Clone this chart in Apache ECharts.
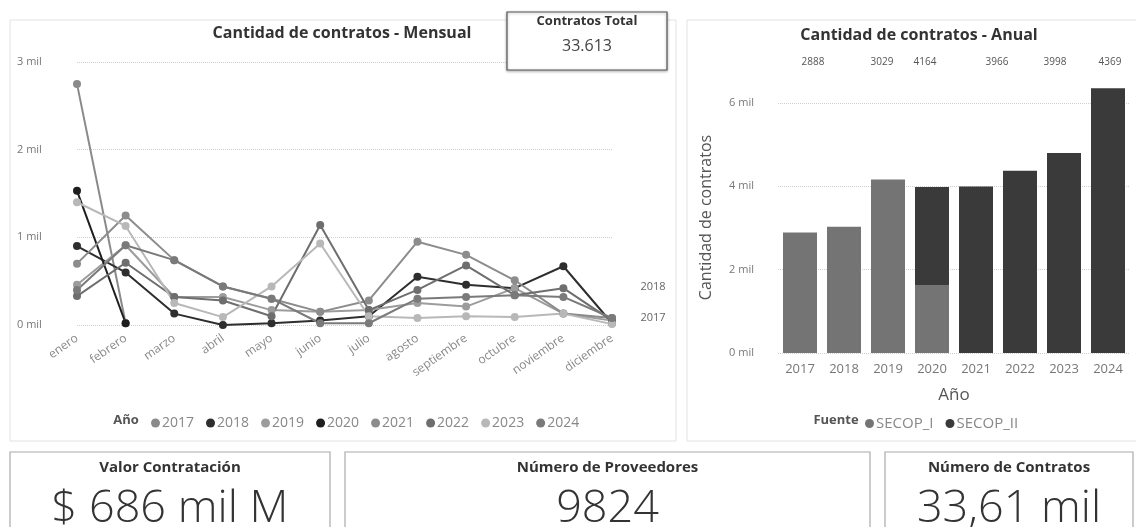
<!DOCTYPE html>
<html><head><meta charset="utf-8">
<script src="https://cdn.jsdelivr.net/npm/echarts@6/dist/echarts.min.js"></script>
<style>html,body{margin:0;padding:0;background:#fff;}#c{width:1136px;height:527px;}</style>
</head><body><div id="c"></div>
<script>
const months = ['enero','febrero','marzo','abril','mayo','junio','julio','agosto','septiembre','octubre','noviembre','diciembre'];
const yearNames = ['2017','2018','2019','2020','2021','2022','2023','2024'];
const v2017 = [2750, 20, null, null, null, null, null, null, null, null, null, null];
const v2018 = [900, 600, 130, 0, 20, 50, 100, 550, 460, 420, 670, 20];
const v2019 = [460, 910, 320, 320, 170, 150, 170, 250, 210, 420, 130, 50];
const v2020 = [1530, 20, null, null, null, null, null, null, null, null, null, null];
const v2021 = [700, 1250, 740, 440, 300, 150, 280, 950, 800, 510, 130, 80];
const v2022 = [330, 710, 320, 280, 100, 1140, 170, 400, 680, 340, 420, 50];
const v2023 = [1400, 1130, 250, 90, 440, 930, 100, 80, 100, 90, 130, 10];
const v2024 = [400, 910, 740, 440, 300, 20, 20, 300, 320, 340, 320, 80];
const monthlySeries = [v2017, v2018, v2019, v2020, v2021, v2022, v2023, v2024];

const years = ['2017','2018','2019','2020','2021','2022','2023','2024'];
const secopI  = [2888, 3029, 4164, 1630, 0, 0, 0, 0];
const secopII = [0, 0, 0, 2350, 3996, 4369, 4800, 6350];
const topLabels = ['2888','3029','4164','3966','3998','4369'];
const totalContratos = '33.613';
const cards = [
  {title: 'Valor Contratación', value: '$ 686 mil M'},
  {title: 'Número de Proveedores', value: '9824'},
  {title: 'Número de Contratos', value: '33,61 mil'}
];

const yearColors = ['#8a8a8a','#2e2e2e','#9c9c9c','#1e1e1e','#8c8c8c','#6e6e6e','#b8b8b8','#7a7a7a'];
const FONT = '"Open Sans", "Noto Sans", sans-serif';

const chart = echarts.init(document.getElementById('c'));
const milFmt = v => (v/1000) + ' mil';

const series = monthlySeries.map((d, i) => ({
  name: yearNames[i], type: 'line', xAxisIndex: 0, yAxisIndex: 0, data: d,
  symbol: 'circle', symbolSize: 8, showSymbol: true,
  lineStyle: {width: 2, color: yearColors[i]}, itemStyle: {color: yearColors[i]},
  z: 3
}));
series.push({name: 'SECOP_I', type: 'bar', stack: 's', xAxisIndex: 1, yAxisIndex: 1, data: secopI, barWidth: 34, itemStyle: {color: '#747474'}});
series.push({name: 'SECOP_II', type: 'bar', stack: 's', xAxisIndex: 1, yAxisIndex: 1, data: secopII, barWidth: 34, itemStyle: {color: '#3a3a3a'}});

const topLabelX = [813, 882, 925, 997, 1055, 1110];
const graphics = [
  {type: 'rect', shape: {x: 10, y: 20, width: 666, height: 421}, style: {fill: 'none', stroke: '#e2e2e2', lineWidth: 1}, z: -1},
  {type: 'rect', shape: {x: 687, y: 20, width: 460, height: 421}, style: {fill: 'none', stroke: '#e2e2e2', lineWidth: 1}, z: -1},
  {type: 'rect', shape: {x: 507, y: 12, width: 160, height: 58}, style: {fill: '#fff', stroke: '#555', lineWidth: 1.2, shadowBlur: 3, shadowColor: 'rgba(0,0,0,0.3)', shadowOffsetY: 1}, z: 10},
  {type: 'text', x: 587, y: 21, style: {text: 'Contratos Total', font: 'bold 13px ' + FONT, fill: '#333', align: 'center', verticalAlign: 'middle'}, z: 11},
  {type: 'text', x: 587, y: 46, style: {text: totalContratos, font: '16px ' + FONT, fill: '#444', align: 'center', verticalAlign: 'middle'}, z: 11},
  {type: 'text', x: 342, y: 33, style: {text: 'Cantidad de contratos - Mensual', font: 'bold 16px ' + FONT, fill: '#333', align: 'center', verticalAlign: 'middle'}},
  {type: 'text', x: 919, y: 35, style: {text: 'Cantidad de contratos - Anual', font: 'bold 16px ' + FONT, fill: '#333', align: 'center', verticalAlign: 'middle'}},
  {type: 'text', x: 653, y: 287, style: {text: '2018', font: '11px ' + FONT, fill: '#666', align: 'center', verticalAlign: 'middle'}},
  {type: 'text', x: 653, y: 318, style: {text: '2017', font: '11px ' + FONT, fill: '#666', align: 'center', verticalAlign: 'middle'}},
  {type: 'text', x: 126, y: 420, style: {text: 'Año', font: 'bold 13px ' + FONT, fill: '#555', align: 'center', verticalAlign: 'middle'}},
  {type: 'text', x: 836, y: 420, style: {text: 'Fuente', font: 'bold 13px ' + FONT, fill: '#555', align: 'center', verticalAlign: 'middle'}}
];
topLabels.forEach((t, i) => graphics.push({type: 'text', x: topLabelX[i], y: 62, style: {text: t, font: '10px ' + FONT, fill: '#555', align: 'center', verticalAlign: 'middle'}}));
const cardBoxes = [[10, 320], [345, 525], [885, 248]];
cards.forEach((c, i) => {
  const [x, w] = cardBoxes[i];
  graphics.push({type: 'rect', shape: {x: x, y: 452, width: w, height: 90}, style: {fill: 'none', stroke: '#aaa', lineWidth: 1.2}});
  graphics.push({type: 'text', x: x + w/2, y: 468, style: {text: c.title, font: 'bold 15px ' + FONT, fill: '#333', align: 'center', verticalAlign: 'middle'}});
  graphics.push({type: 'text', x: x + w/2, y: 509, style: {text: c.value, font: '300 45px ' + FONT, fill: '#333', align: 'center', verticalAlign: 'middle'}});
});

chart.setOption({
  animation: false,
  textStyle: {fontFamily: FONT},
  color: yearColors,
  legend: [
    {data: yearNames, left: 146, top: 411, itemWidth: 9, itemHeight: 9, itemGap: 12, icon: 'circle',
     textStyle: {color: '#888', fontSize: 14, padding: [0, 0, 0, -3]}},
    {data: ['SECOP_I', 'SECOP_II'], left: 860, top: 411, itemWidth: 9, itemHeight: 9, itemGap: 12, icon: 'circle',
     textStyle: {color: '#888', fontSize: 15, padding: [0, 0, 0, -3]}}
  ],
  grid: [
    {left: 77, right: 524, top: 62, bottom: 202},
    {left: 778, right: 6, top: 82, bottom: 174}
  ],
  xAxis: [
    {type: 'category', gridIndex: 0, data: months, boundaryGap: false,
     axisLine: {show: false}, axisTick: {show: false},
     axisLabel: {rotate: 35, color: '#888', fontSize: 12, margin: 12}},
    {type: 'category', gridIndex: 1, data: years,
     axisLine: {show: false}, axisTick: {show: false},
     axisLabel: {color: '#777', fontSize: 13, margin: 10},
     name: 'Año', nameLocation: 'middle', nameGap: 34, nameTextStyle: {color: '#555', fontSize: 17}}
  ],
  yAxis: [
    {type: 'value', gridIndex: 0, min: 0, max: 3000, interval: 1000,
     axisLabel: {formatter: milFmt, color: '#777', fontSize: 11, align: 'left', margin: 60},
     splitLine: {lineStyle: {type: 'dotted', color: '#cfcfcf'}}},
    {type: 'value', gridIndex: 1, min: 0, max: 6500, interval: 2000,
     axisLabel: {formatter: milFmt, color: '#777', fontSize: 11, margin: 24, showMaxLabel: false},
     splitLine: {showMaxLine: false, lineStyle: {type: 'dotted', color: '#cfcfcf'}},
     name: 'Cantidad de contratos', nameLocation: 'middle', nameGap: 64, nameTextStyle: {color: '#555', fontSize: 16}}
  ],
  series: series,
  graphic: graphics
});
</script></body></html>
